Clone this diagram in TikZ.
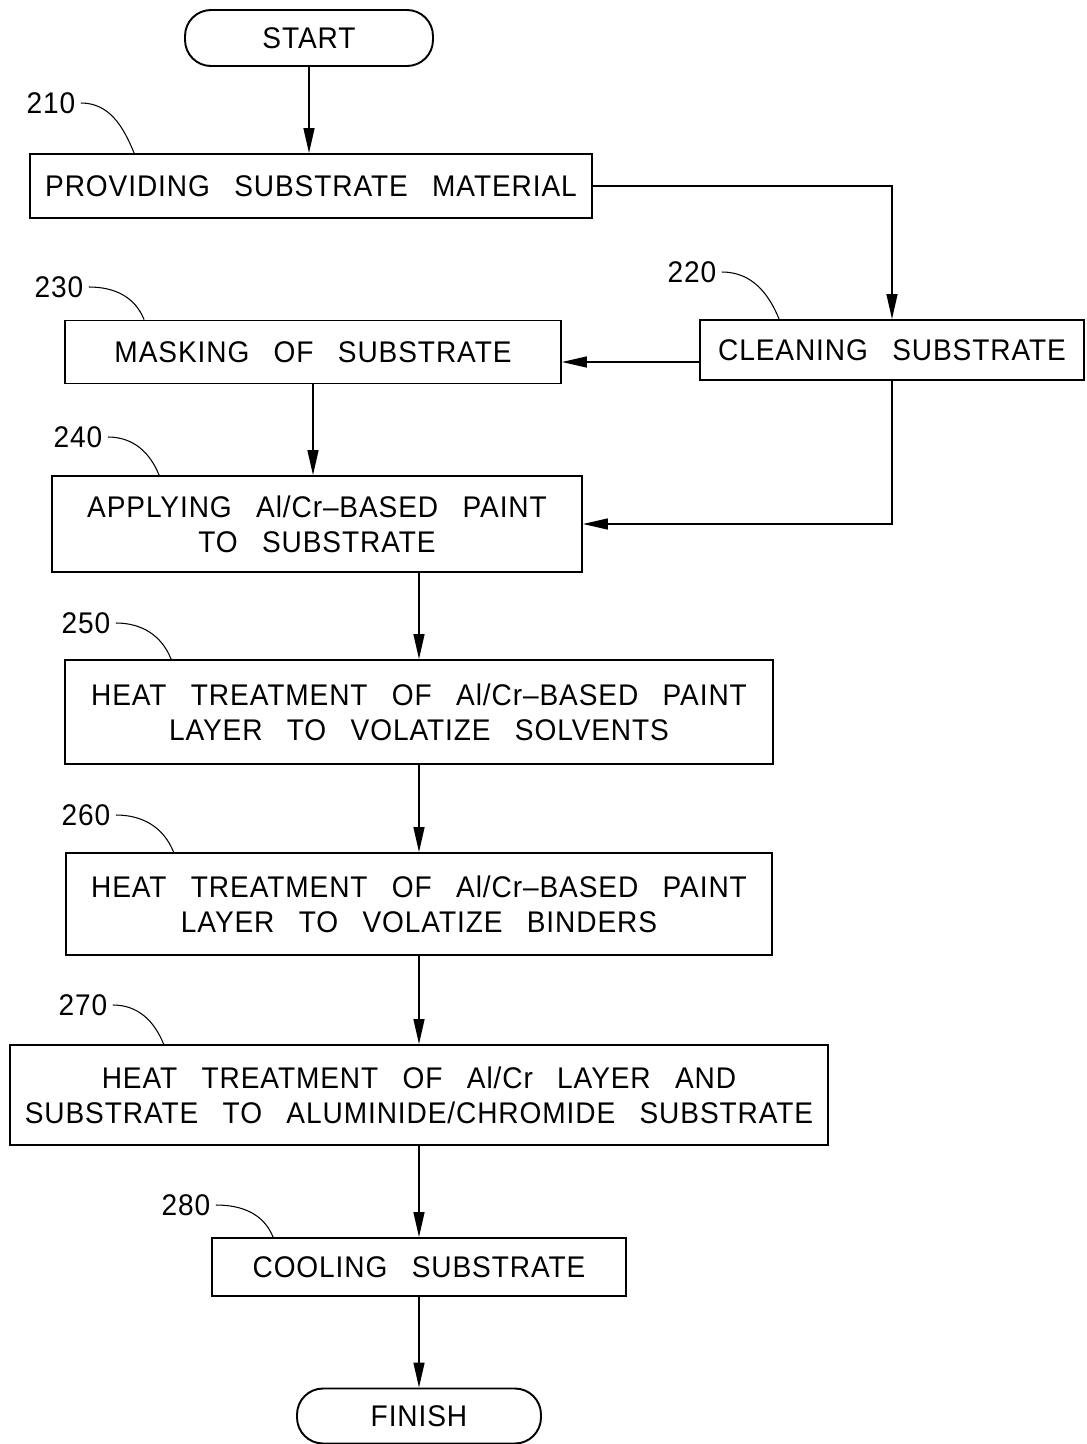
\documentclass[tikz,border=0pt]{standalone}
\usepackage{fontspec}
\setmainfont[WordSpace=2.8,FakeStretch=0.94,LetterSpace=3]{Liberation Sans}
\usetikzlibrary{arrows.meta}

\begin{document}
\begin{tikzpicture}[x=0.02cm,y=-0.02cm,
		box/.style={draw,line width=1.1pt,inner sep=0pt,align=center,font=\fontsize{17}{20}\selectfont},
		term/.style={box,rounded corners=0.52cm},
		refnum/.style={inner sep=1pt,font=\fontsize{17}{20}\selectfont},
		flow/.style={line width=0.8pt,-{Triangle[length=5mm,width=2.2mm]}},
		lead/.style={line width=0.6pt}]
	\useasboundingbox (0,0) rectangle (1086,1444);
	\node[term,minimum width=4.96cm,minimum height=1.12cm] (start) at (309,38) {START};
	\node[box,minimum width=11.24cm,minimum height=1.28cm] (b210) at (311,186) {PROVIDING SUBSTRATE MATERIAL};
	\node[box,minimum width=7.68cm,minimum height=1.2cm] (b220) at (892,350) {CLEANING SUBSTRATE};
	\node[box,minimum width=9.92cm,minimum height=1.26cm] (b230) at (313,352) {MASKING OF SUBSTRATE};
	\node[box,minimum width=10.6cm,minimum height=1.92cm] (b240) at (317,524) {APPLYING Al/Cr–BASED PAINT\\TO SUBSTRATE};
	\node[box,minimum width=14.16cm,minimum height=2.08cm] (b250) at (419,712) {HEAT TREATMENT OF Al/Cr–BASED PAINT\\LAYER TO VOLATIZE SOLVENTS};
	\node[box,minimum width=14.14cm,minimum height=2.04cm] (b260) at (419,904) {HEAT TREATMENT OF Al/Cr–BASED PAINT\\LAYER TO VOLATIZE BINDERS};
	\node[box,minimum width=16.38cm,minimum height=2cm] (b270) at (419,1095) {HEAT TREATMENT OF Al/Cr LAYER AND\\SUBSTRATE TO ALUMINIDE/CHROMIDE SUBSTRATE};
	\node[box,minimum width=8.28cm,minimum height=1.16cm] (b280) at (419,1267) {COOLING SUBSTRATE};
	\node[term,minimum width=4.88cm,minimum height=1.1cm] (finish) at (419,1416) {FINISH};

	\node[refnum] (r210) at (51,103) {210};
	\node[refnum] (r220) at (692,272) {220};
	\node[refnum] (r230) at (59,287) {230};
	\node[refnum] (r240) at (78,437) {240};
	\node[refnum] (r250) at (86,623) {250};
	\node[refnum] (r260) at (86,815) {260};
	\node[refnum] (r270) at (83,1005) {270};
	\node[refnum] (r280) at (186,1205) {280};
	\foreach \n/\dx in {210/2.1,220/1.6,230/1.6,240/2.16,250/2.14,260/2.18,270/3.1,280/1.24}{
			\draw[lead] ([xshift=2pt]r\n.east) to[out=0,in=112] ([xshift=\dx cm]b\n.north west);
		}

	\coordinate (j230) at (0,362);
	\draw[flow] (start) -- (start |- b210.north);
	\draw[flow] (b210.east) -| (b220.north);
	\draw[flow] (b220.west |- j230) -- (b230.east |- j230);
	\draw[flow] (b230) -- (b230 |- b240.north);
	\draw[flow] (b220.south) |- (b240.east);
	\draw[flow] (b250 |- b240.south) -- (b250.north);
	\draw[flow] (b250) -- (b260);
	\draw[flow] (b260) -- (b270);
	\draw[flow] (b270) -- (b280);
	\draw[flow] (b280) -- (finish);
\end{tikzpicture}
\end{document}
